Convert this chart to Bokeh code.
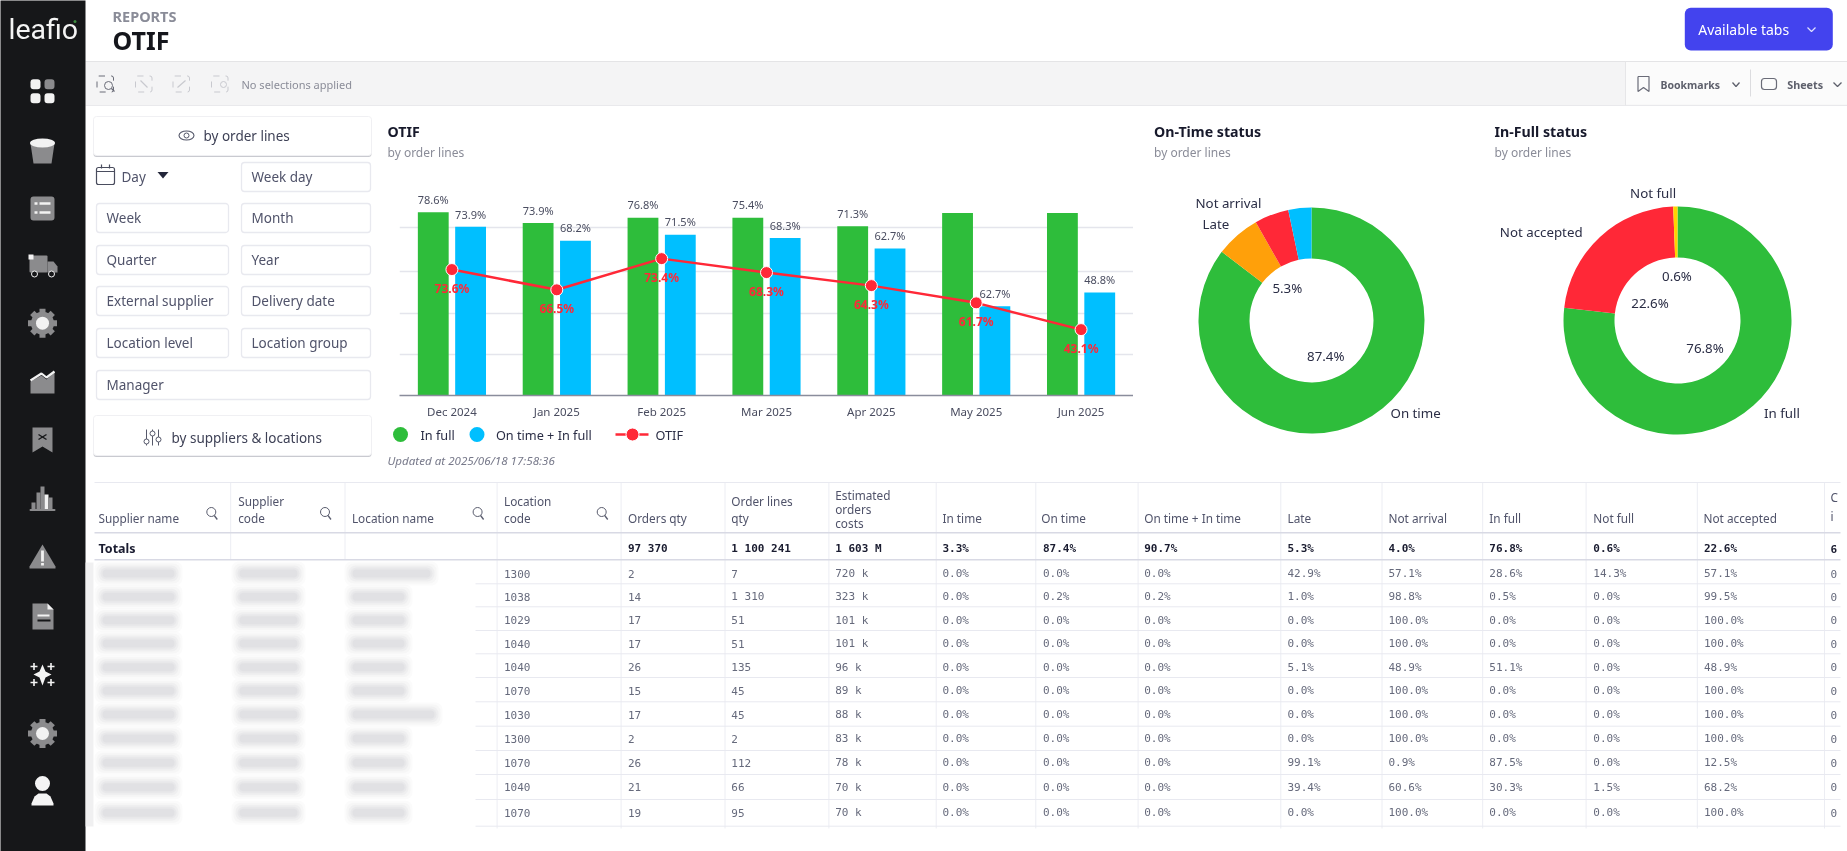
from math import pi, cos, sin
from bokeh.plotting import figure
from bokeh.layouts import column
from bokeh.models import Range1d, FactorRange, FixedTicker, ColumnDataSource
from bokeh.transform import dodge
from bokeh.core.properties import value
from bokeh.embed import file_html
from bokeh.resources import INLINE

# ---------- chart data ----------
months = ["Dec 2024", "Jan 2025", "Feb 2025", "Mar 2025", "Apr 2025", "May 2025", "Jun 2025"]
# bar / point heights (percent scale of the plot)
in_full = [78.7, 74.1, 76.4, 76.4, 72.7, 78.4, 78.4]
on_time_in_full = [72.5, 66.5, 69.1, 67.7, 63.1, 38.3, 44.3]
otif = [54.1, 45.4, 58.8, 52.8, 47.2, 39.8, 28.3]
# printed labels
in_full_labels = ["78.6%", "73.9%", "76.8%", "75.4%", "71.3%", "", ""]
on_time_in_full_labels = ["73.9%", "68.2%", "71.5%", "68.3%", "62.7%", "62.7%", "48.8%"]
otif_labels = ["73.6%", "66.5%", "73.4%", "68.3%", "64.3%", "61.7%", "43.1%"]
grid_values = [0, 17.5, 35.1, 53.2, 72, 91.5]

on_time_status_names = ["On time", "Late", "Not arrival", "In time"]
on_time_status_values = [85.4, 6.4, 4.9, 3.3]
in_full_status_names = ["In full", "Not accepted", "Not full"]
in_full_status_values = [76.8, 22.6, 0.6]

# ---------- table data ----------
col_location_code = ["1300", "1038", "1029", "1040", "1040", "1070", "1030", "1300", "1070", "1040", "1070"]
col_orders_qty = ["2", "14", "17", "17", "26", "15", "17", "2", "26", "21", "19"]
col_order_lines = ["7", "1 310", "51", "51", "135", "45", "45", "2", "112", "66", "95"]
col_costs = ["720 k", "323 k", "101 k", "101 k", "96 k", "89 k", "88 k", "83 k", "78 k", "70 k", "70 k"]
col_in_time = ["0.0%"] * 11
col_on_time = ["0.0%", "0.2%", "0.0%", "0.0%", "0.0%", "0.0%", "0.0%", "0.0%", "0.0%", "0.0%", "0.0%"]
col_on_in_time = ["0.0%", "0.2%", "0.0%", "0.0%", "0.0%", "0.0%", "0.0%", "0.0%", "0.0%", "0.0%", "0.0%"]
col_late = ["42.9%", "1.0%", "0.0%", "0.0%", "5.1%", "0.0%", "0.0%", "0.0%", "99.1%", "39.4%", "0.0%"]
col_not_arrival = ["57.1%", "98.8%", "100.0%", "100.0%", "48.9%", "100.0%", "100.0%", "100.0%", "0.9%", "60.6%", "100.0%"]
col_in_full = ["28.6%", "0.5%", "0.0%", "0.0%", "51.1%", "0.0%", "0.0%", "0.0%", "87.5%", "30.3%", "0.0%"]
col_not_full = ["14.3%", "0.0%", "0.0%", "0.0%", "0.0%", "0.0%", "0.0%", "0.0%", "0.0%", "1.5%", "0.0%"]
col_not_accepted = ["57.1%", "99.5%", "100.0%", "100.0%", "48.9%", "100.0%", "100.0%", "100.0%", "12.5%", "68.2%", "100.0%"]
col_last = ["0"] * 11
totals_row = ["97 370", "1 100 241", "1 603 M", "3.3%", "87.4%", "90.7%", "5.3%", "4.0%", "76.8%", "0.6%", "22.6%", "6"]

GREEN, BLUE, RED, ORANGE, YELLOW = "#2EBD3B", "#00BFFF", "#FF2837", "#FFA00A", "#FFD400"
FONT = "Noto Sans"
MONO = "DejaVu Sans Mono"
INK = "#2a2d45"
MUTED = "#8a8c98"
BODY = "#50536a"
LINE = "#e8e9f0"


def fixed(left, top):
    return {"position": "fixed", "left": f"{left}px", "top": f"{top}px"}


# ---------- page canvas (UI chrome, table) ----------
c = figure(width=1847, height=851, x_range=Range1d(0, 1847), y_range=Range1d(851, 0),
           output_backend="svg", toolbar_location=None, min_border=0,
           min_border_left=0, min_border_right=0, min_border_top=0, min_border_bottom=0,
           x_axis_type=None, y_axis_type=None, outline_line_color=None,
           background_fill_color="white", border_fill_color="white", styles=fixed(0, 0))
c.grid.visible = False


def T(x, y, s, size=13, color=BODY, font=FONT, style="normal", align="left"):
    c.text([x], [y], text=[s], text_font=value(font), text_font_size=f"{size}px", text_color=color,
           text_font_style=style, text_align=align, text_baseline="middle")


def box(l, t, r, b, fill="white", line=None, radius=0, alpha=1.0, width=1):
    c.quad(left=[l], right=[r], top=[t], bottom=[b], fill_color=fill, fill_alpha=alpha,
           line_color=line, line_width=width, border_radius=int(radius))


def seg(xs, ys, color=LINE, width=1, dash="solid"):
    c.line(xs, ys, line_color=color, line_width=width, line_dash=dash)


def poly(xs, ys, color):
    c.patch(xs, ys, fill_color=color, line_color=None)


def dot(x, y, d, color, line=None):
    c.scatter([x], [y], size=d, marker="circle", fill_color=color, line_color=line)


# toolbar band
box(85, 61, 1847, 105, fill="#f4f4f5")
box(1625, 61, 1847, 104, fill="#fbfbfb")
seg([85, 1847], [61, 61], "#e4e4e6", 1.2)
seg([85, 1847], [105, 105], "#e9e9ec", 1.2)
seg([1625, 1625], [61, 105], "#e6e6e8", 1)
seg([1750, 1750], [69, 96], "#dcdcdf", 1)

# sidebar
box(-10, -10, 85, 861, fill="#161719", radius=10)
T(8, 29, "leafio", 28.5, "#f4f4f4", "Roboto")
dot(74.5, 21, 3, "#3d8a3f")
GRAY, LIGHT = "#8b8b8d", "#f2f2f2"
x0 = 42
# dashboard
for (dx, dy, col) in [(-7, -7, LIGHT), (7, -7, GRAY), (-7, 7, LIGHT), (7, 7, LIGHT)]:
    box(x0 + dx - 5, 90.7 + dy - 5, x0 + dx + 5, 90.7 + dy + 5, fill=col, radius=3)
# bucket
poly([30, 54, 51, 33], [143, 143, 163, 163], GRAY)
c.ellipse([42], [142.5], width=[25], height=[9], fill_color=LIGHT, line_color=None)
# list
box(30, 196, 54, 220, fill=GRAY, radius=3)
for yy in (203, 212):
    box(34, yy - 1.2, 37, yy + 1.2, fill=LIGHT)
    box(39, yy - 1.2, 50, yy + 1.2, fill=LIGHT)
# truck
box(29, 255, 47, 272, fill=GRAY, radius=1)
poly([47, 53, 57, 57, 47], [261, 261, 266, 272, 272], GRAY)
poly([28, 33, 33, 28], [254, 254, 259, 259], LIGHT)
dot(34, 273.5, 6, "#161719", LIGHT)
dot(51, 273.5, 6, "#161719", LIGHT)
# gears
for yy in (322.7, 733):
    for k in range(8):
        ang = k * pi / 4
        c.scatter([x0 + 11.5 * cos(ang)], [yy + 11.5 * sin(ang)], size=6, marker="square", fill_color=GRAY,
                  line_color=None, angle=-ang)
    dot(x0, yy, 23, GRAY)
    dot(x0, yy, 13, LIGHT)
# area chart
poly([30, 41, 46, 54, 54, 30], [381, 375, 379, 372, 393, 393], GRAY)
seg([30, 41, 46, 54], [380, 373, 377, 371], LIGHT, 2.2)
# bookmark
poly([32, 52, 52, 42, 32], [427, 427, 452, 446, 452], GRAY)
seg([38, 46], [434, 439], "#161719", 1.4)
seg([38, 46], [439, 434], "#161719", 1.4)
# skyline bars
for (l, r, t, col) in [(31, 35, 502, GRAY), (36, 40, 492, GRAY), (40, 44, 486, GRAY), (44, 48, 494, LIGHT),
                       (48, 52, 497, GRAY)]:
    box(l, t, r, 509, fill=col)
box(29, 508.5, 55, 510.5, fill=GRAY, radius=1)
# warning
poly([42, 55, 55, 29, 29], [544, 566, 568, 568, 566], GRAY)
box(40.6, 550, 43.4, 561, fill=LIGHT)
box(40.6, 562.5, 43.4, 565, fill=LIGHT)
# document
poly([32, 47, 53, 53, 32], [603, 603, 609, 629, 629], GRAY)
poly([47, 53, 47], [603, 609, 609], LIGHT)
box(37, 614, 49, 616, fill=LIGHT)
box(37, 619, 50, 621, fill="#161719")
# sparkle
poly([42, 45, 51, 45, 42, 39, 33, 39], [664, 671, 674, 677, 685, 677, 674, 671], "#f4f4f4")
for dx, dy in [(-8.5, -8), (8.5, -8), (-8.5, 8), (8.5, 8)]:
    c.scatter([x0 + dx], [674 + dy], size=7, marker="cross", line_color="#f4f4f4", line_width=1.6)
# user
dot(x0, 783, 15, "#f4f4f4")
poly([31, 34, 38, 46, 50, 53, 53, 31], [803, 796, 793, 793, 796, 803, 805, 805], "#f4f4f4")

# header
T(112, 15.5, "REPORTS", 14.5, MUTED, style="bold")
T(112, 39.5, "OTIF", 25, "#15161c", style="bold")
box(1684.3, 7.3, 1832.3, 50, fill="#4343EE", radius=6)
T(1697.7, 28.5, "Available tabs", 14, "#ffffff")
seg([1807, 1811, 1815], [27, 31, 27], "#dfe0ff", 1.2)

# toolbar
for i, xx in enumerate((96.5, 135, 172.5, 211)):
    col = "#6a6c78" if i == 0 else "#c8c9cf"
    c.quad(left=[xx], right=[xx + 16.5], top=[75.5], bottom=[91.5], fill_color=None, line_color=col,
           line_width=1, line_dash="dashed", border_radius=2)
dot(108, 85, 8, None, "#6a6c78")
seg([111, 114], [88, 91], "#6a6c78", 1.2)
seg([140, 147], [80, 87], "#c8c9cf", 1.2)
seg([177, 185], [87, 80], "#c8c9cf", 1.2)
dot(223, 84, 6, None, "#c8c9cf")
T(241, 84, "No selections applied", 11, MUTED)
poly([1637.5, 1648.5, 1648.5, 1643, 1637.5], [76, 76, 91, 87, 91], "#fbfbfb")
seg([1637.5, 1648.5, 1648.5, 1643, 1637.5, 1637.5], [76, 76, 91, 87, 91, 76], "#6a6c78", 1.2)
T(1660, 84, "Bookmarks", 10.5, "#5e606c", style="bold")
seg([1732, 1735.5, 1739], [82, 86, 82], "#5e606c", 1.3)
c.quad(left=[1761], right=[1776], top=[78], bottom=[89], fill_color=None, line_color="#6a6c78", line_width=1.2, border_radius=3)
T(1786.7, 84, "Sheets", 10.8, "#5e606c", style="bold")
seg([1833, 1837, 1841], [82, 86, 82], "#5e606c", 1.3)

# filter panel
for (l, t, r, b) in [(93, 116, 371, 155), (93, 415, 371, 455)]:
    box(l, t + 1.5, r, b + 1.5, fill="#c9cad0", radius=3)
    box(l, t, r, b, fill="#ffffff", line="#f0f0f3", radius=3)
T(203, 135, "by order lines", 13.5, "#3e4156")
c.ellipse([186], [135], width=[15], height=[9], fill_color=None, line_color="#55586a", line_width=1.1)
dot(186, 135, 5, None, "#55586a")
T(171, 437, "by suppliers & locations", 13.5, "#3e4156")
for xx, yy in [(146, 441), (152, 433), (158, 439)]:
    seg([xx, xx], [429, 445], "#55586a", 1)
    dot(xx, yy, 5, "white", "#55586a")
# Day control
c.quad(left=[96], right=[114], top=[167], bottom=[184], fill_color=None, line_color="#4a4d5e", line_width=1.2, border_radius=2)
seg([96, 114], [171, 171], "#4a4d5e", 1.2)
seg([101, 101], [164, 168], "#4a4d5e", 1.2)
seg([109, 109], [164, 168], "#4a4d5e", 1.2)
T(121, 176, "Day", 13.5, BODY)
poly([157, 168, 162.5], [171.5, 171.5, 178], "#23263a")
filter_boxes = [("Week day", 241, 162, 370, 191), ("Week", 96, 203, 228, 232), ("Month", 241, 203, 370, 232),
                ("Quarter", 96, 245, 228, 274), ("Year", 241, 245, 370, 274),
                ("External supplier", 96, 286, 228, 315), ("Delivery date", 241, 286, 370, 315),
                ("Location level", 96, 328, 228, 357), ("Location group", 241, 328, 370, 357),
                ("Manager", 96, 370, 370, 399)]
for (s, l, t, r, b) in filter_boxes:
    box(l, t, r, b, fill="#ffffff", line="#e8e9ef", radius=3, width=1.3)
    T(l + 10, (t + b) / 2 - 0.5, s, 13.5, BODY)

# chart headings
for xx, s in [(387, "OTIF"), (1153.5, "On-Time status"), (1494, "In-Full status")]:
    T(xx, 130.7, s, 14.2, "#17192b", style="bold")
    T(xx, 152, "by order lines", 12, MUTED)
# legend
dot(400, 434, 15, GREEN)
T(420, 434, "In full", 12.7, INK)
dot(476.5, 434, 15, BLUE)
T(495.4, 434, "On time + In full", 12.7, INK)
seg([615, 648], [434, 434], RED, 2.5)
dot(632, 434, 13, RED, "#ffffff")
T(655, 434, "OTIF", 12.7, INK)
T(387, 460, "Updated at 2025/06/18 17:58:36", 11.6, "#77798a", style="italic")

# donut labels
for (xx, yy, s, a) in [(1195, 202.7, "Not arrival", "left"), (1202, 223, "Late", "left"),
                       (1286.8, 287.7, "5.3%", "center"), (1325.3, 355, "87.4%", "center"),
                       (1390, 412.7, "On time", "left"), (1629.6, 192.3, "Not full", "left"),
                       (1499.3, 231, "Not accepted", "left"), (1676.5, 275.3, "0.6%", "center"),
                       (1649.5, 302, "22.6%", "center"), (1704.5, 347, "76.8%", "center"),
                       (1763.5, 412.7, "In full", "left")]:
    T(xx, yy, s, 13.3, INK, align=a)

# ---------- table ----------
col_edges = [230.2, 344.5, 496.6, 620.6, 724.5, 828.4, 935.7, 1035.3, 1137.6, 1280.3, 1381.5, 1482.2, 1585.6, 1696.8, 1824]
row_y = [573, 596.3, 619.7, 643, 666.7, 690.3, 714, 738, 762.3, 786.7, 812.3]
row_lines = [583.3, 606.3, 630, 653.3, 677, 701.3, 725.7, 750, 774, 799, 825.7]

# blurred names
box(85, 562, 93, 826, fill="#ececee", alpha=0.8)
blob_col3 = [78, 52, 52, 52, 52, 52, 82, 52, 52, 52, 52]
for i, yy in enumerate(row_y):
    for (l, w) in [(102, 72), (239, 58), (352, blob_col3[i])]:
        for grow, a in [(8, 0.05), (6, 0.07), (4, 0.09), (2, 0.10), (0, 0.12)]:
            c.quad(left=[l - grow], right=[l + w + grow], top=[yy - 4 - grow], bottom=[yy + 4 + grow],
                   fill_color="#b4b4ba", fill_alpha=a, line_color=None, border_radius=7)

for xx in col_edges:
    seg([xx, xx], [482, 559 if xx < 400 else 828], "#eceDf3", 1)
seg([94, 1840], [482, 482], LINE, 1)
seg([94, 1840], [532.3, 532.3], "#d8d9e4", 1.4)
seg([94, 1840], [559.3, 559.3], "#d8d9e4", 1.4)
for yy in row_lines:
    seg([475, 1840], [yy, yy], LINE, 1)

HS = 11.8
for (xx, yy, s) in [(98, 517, "Supplier name"), (237.7, 500.7, "Supplier"), (237.7, 517, "code"),
                    (351.4, 517, "Location name"), (503.5, 500.7, "Location"), (503.5, 517, "code"),
                    (627.5, 517, "Orders qty"), (730.8, 500.7, "Order lines"), (730.8, 517, "qty"),
                    (834.7, 494, "Estimated"), (834.7, 508.7, "orders"), (834.7, 522.7, "costs"),
                    (942, 517, "In time"), (1040.8, 517, "On time"), (1143.7, 517, "On time + In time"),
                    (1287, 517, "Late"), (1388, 517, "Not arrival"), (1488.8, 517, "In full"),
                    (1592.8, 517, "Not full"), (1703, 517, "Not accepted"), (1830, 496, "C"), (1830, 515, "i")]:
    T(xx, yy, s, HS, BODY)
for xx in (211.3, 325, 477.6, 601.7):
    dot(xx - 0.5, 511.5, 9, None, "#5a5d6e")
    seg([xx + 2.5, xx + 5.5], [515, 519], "#5a5d6e", 1.3)

T(98, 548, "Totals", 12.5, "#1a1c30", style="bold")
value_x = [627.5, 730.8, 834.7, 942, 1042.5, 1143.7, 1287, 1388, 1488.8, 1592.8, 1703.4, 1830]
for xx, s in zip(value_x, totals_row):
    T(xx, 548, s, 11, "#1a1c30", MONO, "bold")
table_cols = [col_orders_qty, col_order_lines, col_costs, col_in_time, col_on_time, col_on_in_time,
              col_late, col_not_arrival, col_in_full, col_not_full, col_not_accepted, col_last]
T_COL = "#666a7c"
for xx, col in zip([503.5] + value_x, [col_location_code] + table_cols):
    c.text([xx] * len(col), row_y, text=col, text_font=value(MONO), text_font_size="11px", text_color=T_COL,
           text_baseline="middle", text_align="left")

# ---------- OTIF combo chart ----------
PL, PT, PR, PB = 399, 181.7, 1133, 395
CL, CT = PL, 170
CW, CH = PR - PL, 260
src = ColumnDataSource(dict(month=months, in_full=in_full, on_time=on_time_in_full, otif=otif,
                            l_full=in_full_labels, l_time=on_time_in_full_labels, l_otif=otif_labels))
ch = figure(width=CW, height=CH, x_range=FactorRange(*months, factor_padding=0, range_padding=0),
            y_range=Range1d(0, 91.5), output_backend="svg", toolbar_location=None,
            min_border_left=0, min_border_right=0,
            min_border_top=int(round(PT - CT)), min_border_bottom=int(round(CT + CH - PB)),
            outline_line_color=None, background_fill_color=None, border_fill_color=None,
            styles=fixed(CL, CT))
ch.yaxis.visible = False
ch.xgrid.visible = False
ch.ygrid.ticker = FixedTicker(ticks=grid_values)
ch.ygrid.grid_line_color = "#e4e5ec"
ch.ygrid.grid_line_width = 1.5
ch.xaxis.axis_line_color = "#8a8d9c"
ch.xaxis.axis_line_width = 1.5
ch.xaxis.major_tick_line_color = None
ch.xaxis.minor_tick_line_color = None
ch.xaxis.major_label_text_font = FONT
ch.xaxis.major_label_text_font_size = "11.5px"
ch.xaxis.major_label_text_color = "#4a4d60"
ch.xaxis.major_label_standoff = 2

OFF = 0.178
BW = 0.294
ch.vbar(x=dodge("month", -OFF, range=ch.x_range), top="in_full", width=BW, source=src, fill_color=GREEN, line_color=None)
ch.vbar(x=dodge("month", OFF, range=ch.x_range), top="on_time", width=BW, source=src, fill_color=BLUE, line_color=None)
ch.line(x="month", y="otif", source=src, line_color=RED, line_width=2.5)
ch.scatter(x="month", y="otif", source=src, size=12, fill_color=RED, line_color="#ffffff", line_width=1)
kw = dict(source=src, text_font=value(FONT), text_align="center", text_baseline="middle")
ch.text(x=dodge("month", -OFF, range=ch.x_range), y="in_full", text="l_full", y_offset=-12.7, text_color="#4a4d60", text_font_size="11px", **kw)
ch.text(x=dodge("month", OFF, range=ch.x_range), y="on_time", text="l_time", y_offset=-12.7, text_color="#4a4d60", text_font_size="11px", **kw)
ch.text(x="month", y="otif", text="l_otif", y_offset=18.7, text_color="#FF2837", text_font_style="bold", text_font_size="12px", **kw)


# ---------- donuts ----------
def donut(names, values, colors, cx, cy, ro, ri):
    half = ro + 4
    d = figure(width=int(2 * half), height=int(2 * half), x_range=Range1d(-half, half), y_range=Range1d(-half, half),
               output_backend="svg", toolbar_location=None, min_border=0, x_axis_type=None, y_axis_type=None,
               min_border_left=0, min_border_right=0, min_border_top=0, min_border_bottom=0,
               outline_line_color=None, background_fill_color=None, border_fill_color=None,
               styles=fixed(cx - half, cy - half))
    d.grid.visible = False
    total = sum(values)
    starts, ends, acc = [], [], 0.0
    for v in values:
        starts.append(pi / 2 - acc / total * 2 * pi)
        acc += v
        ends.append(pi / 2 - acc / total * 2 * pi)
    s = ColumnDataSource(dict(name=names, value=values, start=starts, end=ends, color=colors))
    d.annular_wedge(x=0, y=0, inner_radius=ri, outer_radius=ro, start_angle="start", end_angle="end",
                    direction="clock", fill_color="color", line_color=None, source=s)
    return d


d1 = donut(on_time_status_names, on_time_status_values, [GREEN, ORANGE, RED, BLUE], 1310.8, 320, 113, 62)
d2 = donut(in_full_status_names, in_full_status_values, [GREEN, RED, YELLOW], 1677.4, 319.5, 114, 63)

page = column(c, ch, d1, d2)
open("out.html", "w").write(file_html(page, INLINE))
